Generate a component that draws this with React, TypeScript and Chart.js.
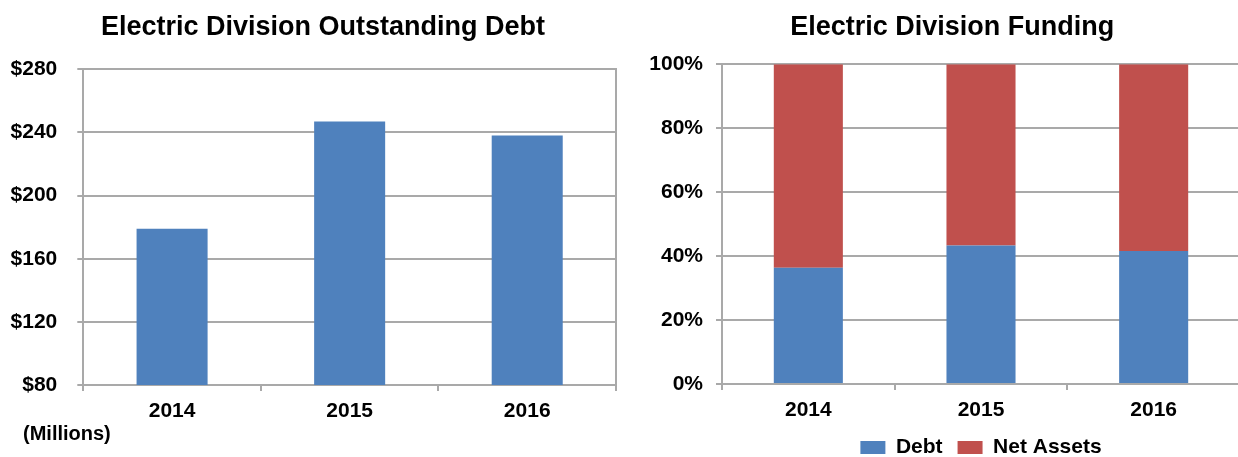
import { useEffect, useRef } from 'react';
import { Chart, registerables } from 'chart.js';

Chart.register(...registerables);

// ---- data ----
const years = ['2014', '2015', '2016'];
const outstandingDebt = [179, 247, 238]; // $ millions
const debtShare = [36.4, 43.3, 41.6]; // %
const netAssetsShare = [63.6, 56.7, 58.4]; // %
const debtAxis = { min: 80, max: 280, step: 40 };
const pctAxis = { min: 0, max: 100, step: 20 };

const FONT = '"Liberation Sans", Arial, Helvetica, sans-serif';
const GRID = '#a9a9a9';
const BLUE = '#4f81bd';
const RED = '#c0504d';

// fix an axis box size without clipping its labels
const fixSize = (dim: 'width' | 'height', value: number) => (s: any) => {
  s[dim] = value;
  s._computeLabelArea = () => undefined;
};

export default function App() {
  const leftRef = useRef<HTMLCanvasElement>(null);
  const rightRef = useRef<HTMLCanvasElement>(null);

  useEffect(() => {
    Chart.defaults.font.family = FONT;
    const tickFont = { family: FONT, size: 21, weight: 'bold' as const, lineHeight: 1 };
    const titleFont = { family: FONT, size: 27, weight: 'bold' as const, lineHeight: 1.2 };

    const left = new Chart(leftRef.current!, {
      type: 'bar',
      data: {
        labels: years,
        datasets: [
          {
            label: 'Outstanding Debt',
            data: outstandingDebt,
            backgroundColor: BLUE,
            borderWidth: 0,
            barPercentage: 0.4,
            categoryPercentage: 1,
          },
        ],
      },
      options: {
        responsive: false,
        animation: false,
        layout: { padding: { left: 23, right: 0, top: 0, bottom: 0 } },
        plugins: {
          legend: { display: false },
          tooltip: { enabled: false },
          title: {
            display: true,
            text: 'Electric Division Outstanding Debt',
            color: '#000',
            font: titleFont,
            padding: { top: 11, bottom: 25.9 },
          },
          subtitle: {
            display: true,
            position: 'bottom',
            align: 'start',
            text: '(Millions)',
            color: '#000',
            font: { family: FONT, size: 20, weight: 'bold', lineHeight: 1 },
            padding: { top: 0, bottom: 0 },
          },
        },
        scales: {
          x: {
            grid: { drawOnChartArea: false, drawTicks: true, tickLength: 6, color: GRID, lineWidth: 2 },
            border: { display: true, color: GRID, width: 2 },
            ticks: { color: '#000', font: tickFont, padding: 10 },
            afterFit: fixSize('height', 39),
          },
          y: {
            min: debtAxis.min,
            max: debtAxis.max,
            ticks: {
              stepSize: debtAxis.step,
              color: '#000',
              font: tickFont,
              padding: 20,
              callback: (v: any) => '$' + v,
            },
            grid: { color: GRID, lineWidth: 2, tickLength: 6 },
            border: { display: true, color: GRID, width: 2 },
            afterFit: fixSize('width', 60.3),
          },
          yR: {
            position: 'right',
            grid: { display: false, drawTicks: false },
            ticks: { display: false },
            border: { display: true, color: GRID, width: 2 },
            afterFit: fixSize('width', 7),
          },
        },
      },
    });

    const right = new Chart(rightRef.current!, {
      type: 'bar',
      data: {
        labels: years,
        datasets: [
          {
            label: 'Debt',
            data: debtShare,
            backgroundColor: BLUE,
            borderWidth: 0,
            barPercentage: 0.4,
            categoryPercentage: 1,
          },
          {
            label: 'Net Assets',
            data: netAssetsShare,
            backgroundColor: RED,
            borderWidth: 0,
            barPercentage: 0.4,
            categoryPercentage: 1,
          },
        ],
      },
      options: {
        responsive: false,
        animation: false,
        layout: { padding: { left: 44.5, right: 0, top: 0, bottom: 0 } },
        plugins: {
          tooltip: { enabled: false },
          title: {
            display: true,
            text: 'Electric Division Funding',
            color: '#000',
            font: titleFont,
            padding: { top: 11, bottom: 20.9 },
          },
          legend: {
            display: true,
            position: 'bottom',
            fullSize: false,
            labels: {
              boxWidth: 25,
              boxHeight: 13,
              padding: 15,
              color: '#000',
              font: { family: FONT, size: 21, weight: 'bold' },
            },
          },
        },
        scales: {
          x: {
            stacked: true,
            grid: { drawOnChartArea: false, drawTicks: true, tickLength: 6, color: GRID, lineWidth: 2 },
            border: { display: true, color: GRID, width: 2 },
            ticks: { color: '#000', font: tickFont, padding: 10 },
            afterFit: fixSize('height', 38),
          },
          y: {
            stacked: true,
            min: pctAxis.min,
            max: pctAxis.max,
            ticks: {
              stepSize: pctAxis.step,
              color: '#000',
              font: tickFont,
              padding: 13,
              callback: (v: any) => v + '%',
            },
            grid: { color: GRID, lineWidth: 2, tickLength: 6 },
            border: { display: true, color: GRID, width: 2 },
            afterFit: fixSize('width', 57.5),
          },
        },
      },
    });

    return () => {
      left.destroy();
      right.destroy();
    };
  }, []);

  return (
    <div
      style={{
        position: 'fixed',
        left: 0,
        top: 0,
        width: 1238,
        height: 457,
        overflow: 'hidden',
        background: '#fff',
      }}
    >
      <canvas
        ref={leftRef}
        width={623}
        height={444}
        style={{ position: 'absolute', left: 0, top: 0, width: 623, height: 444 }}
      />
      <canvas
        ref={rightRef}
        width={620}
        height={468}
        style={{ position: 'absolute', left: 620, top: 0, width: 620, height: 468 }}
      />
    </div>
  );
}
